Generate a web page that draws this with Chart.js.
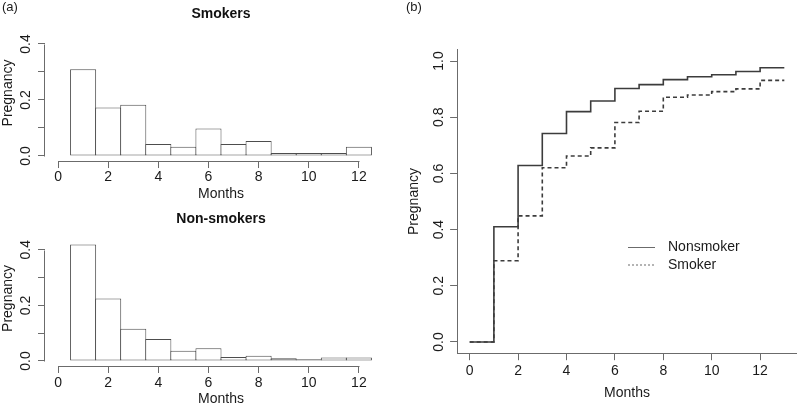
<!DOCTYPE html>
<html>
<head>
<meta charset="utf-8">
<title>Time to pregnancy: smokers vs non-smokers</title>
<script src="https://cdn.jsdelivr.net/npm/chart.js"></script>
<style>
  body { margin: 0; background: #fff; width: 800px; height: 408px; position: relative; overflow: hidden; font-family: "Liberation Sans", Arial, sans-serif; }
  canvas { position: absolute; }
  .tag { position: absolute; font-size: 13px; line-height: 13px; color: #1a1a1a; }
</style>
</head>
<body>
<canvas id="smokers" style="left:0;top:0" width="400" height="205"></canvas>
<canvas id="nonsmokers" style="left:0;top:200px" width="400" height="208"></canvas>
<canvas id="cumulative" style="left:400px;top:0" width="400" height="408"></canvas>
<div class="tag" style="left:2px;top:0px">(a)</div>
<div class="tag" style="left:406px;top:0px">(b)</div>

<script>
  // histogram data (a)
  const histMonths = [1, 2, 3, 4, 5, 6, 7, 8, 9, 10, 11, 12];
  const smokersHist = [0.310, 0.173, 0.183, 0.043, 0.033, 0.098, 0.043, 0.054, 0.011, 0.011, 0.011, 0.033];
  const nonSmokersHist = [0.419, 0.225, 0.116, 0.079, 0.037, 0.046, 0.014, 0.019, 0.010, 0.006, 0.013, 0.013];
  const histYTicks = [0, 0.1, 0.2, 0.3, 0.4];
  const histYLabels = ['0.0', '', '0.2', '', '0.4'];
  const monthTicks = [0, 2, 4, 6, 8, 10, 12];

  // cumulative curves (b)
  const curveMonths = [0, 1, 2, 3, 4, 5, 6, 7, 8, 9, 10, 11, 12, 13];
  const nonsmokerCum = [0, 0.410, 0.628, 0.742, 0.820, 0.858, 0.902, 0.916, 0.934, 0.944, 0.951, 0.963, 0.976, 0.976];
  const smokerCum = [0, 0.289, 0.449, 0.620, 0.662, 0.691, 0.781, 0.821, 0.871, 0.879, 0.891, 0.901, 0.931, 0.931];
  const curveYTicks = [0, 0.2, 0.4, 0.6, 0.8, 1.0];

  Chart.defaults.font.family = '"Liberation Sans", Arial, sans-serif';
  Chart.defaults.font.size = 14;
  Chart.defaults.color = '#1a1a1a';
  const axisGray = '#6b6b6b';

  // R draws the axis line only from the first to the last tick
  const rAxisLines = {
    id: 'rAxisLines',
    afterDraw(chart) {
      const { ctx, chartArea, scales: { x, y } } = chart;
      const ax = Math.round(chartArea.left) - 0.5;
      const ay = Math.round(chartArea.bottom) + 0.5;
      ctx.save();
      ctx.strokeStyle = axisGray;
      ctx.lineWidth = 1;
      ctx.beginPath();
      ctx.moveTo(ax, Math.round(y.getPixelForValue(histYTicks[0])) + 0.5);
      ctx.lineTo(ax, Math.round(y.getPixelForValue(histYTicks[histYTicks.length - 1])) + 0.5);
      ctx.moveTo(Math.round(x.getPixelForValue(monthTicks[0])) + 0.5, ay);
      ctx.lineTo(Math.round(x.getPixelForValue(monthTicks[monthTicks.length - 1])) + 0.5, ay);
      ctx.stroke();
      ctx.restore();
    }
  };

  function histogram(id, title, values, lay) {
    return new Chart(document.getElementById(id), {
      type: 'bar',
      data: {
        datasets: [{
          data: histMonths.map((m, i) => ({ x: m, y: values[i] })),
          backgroundColor: '#ffffff',
          borderColor: '#4d4d4d',
          borderWidth: 1,
          borderSkipped: false,
          barPercentage: 1.04,
          categoryPercentage: 1
        }]
      },
      options: {
        responsive: false,
        animation: false,
        events: [],
        layout: { padding: { top: 0, right: 3, bottom: 0, left: 0 } },
        plugins: {
          legend: { display: false },
          tooltip: { enabled: false },
          title: {
            display: true, text: title, fullSize: false, color: '#111',
            font: { size: 14, weight: 'bold' },
            padding: { top: lay.titleTop, bottom: lay.titleBottom }
          }
        },
        scales: {
          x: {
            type: 'linear', min: -0.52, max: 13.52, offset: false,
            afterBuildTicks: s => { s.ticks = monthTicks.map(v => ({ value: v })); },
            afterFit: s => { s.height = lay.xHeight; },
            border: { display: false },
            grid: { offset: false, drawOnChartArea: false, tickLength: 7, tickColor: axisGray },
            ticks: { padding: lay.xPad, maxRotation: 0, autoSkip: false },
            title: { display: true, text: 'Months', padding: { top: 0, bottom: lay.xTitlePad } }
          },
          y: {
            min: -0.018, max: 0.468,
            afterBuildTicks: s => { s.ticks = histYTicks.map(v => ({ value: v })); },
            afterFit: s => { s.width = 45; },
            border: { display: false },
            grid: { drawOnChartArea: false, tickLength: 7, tickColor: axisGray },
            ticks: {
              minRotation: 90, maxRotation: 90, crossAlign: 'center', padding: 2.4, autoSkip: false,
              callback: (v, i) => histYLabels[i]
            },
            title: { display: true, text: 'Pregnancy', padding: { top: 0, bottom: 0 } }
          }
        }
      },
      plugins: [rAxisLines]
    });
  }

  histogram('smokers', 'Smokers', smokersHist,
    { titleTop: 5.75, titleBottom: 2.4, xHeight: 205 - 161.04, xPad: 0.5, xTitlePad: 2.45 });
  histogram('nonsmokers', 'Non-smokers', nonSmokersHist,
    { titleTop: 11.05, titleBottom: 3.05, xHeight: 208 - 166.0, xPad: 1.4, xTitlePad: 0.15 });

  // legend placed inside the plot, like R's legend()
  const curveLegend = {
    id: 'curveLegend',
    afterDraw(chart) {
      const ctx = chart.ctx;
      ctx.save();
      chart.data.datasets.forEach((ds, i) => {
        const y = 247.5 + i * 17.5;
        ctx.strokeStyle = '#6b6b6b';
        ctx.lineWidth = 1;
        ctx.setLineDash(ds.borderDash ? [2, 2] : []);
        ctx.beginPath();
        ctx.moveTo(228, y);
        ctx.lineTo(255, y);
        ctx.stroke();
        ctx.setLineDash([]);
        ctx.fillStyle = '#1a1a1a';
        ctx.font = '14px "Liberation Sans", Arial, sans-serif';
        ctx.textBaseline = 'middle';
        ctx.fillText(ds.label, 268, y - 0.3);
      });
      ctx.restore();
    }
  };

  new Chart(document.getElementById('cumulative'), {
    type: 'line',
    data: {
      datasets: [
        {
          label: 'Nonsmoker',
          data: curveMonths.map((m, i) => ({ x: m, y: nonsmokerCum[i] })),
          borderColor: '#3c3c3c', borderWidth: 1.6, stepped: true, pointRadius: 0, fill: false
        },
        {
          label: 'Smoker',
          data: curveMonths.map((m, i) => ({ x: m, y: smokerCum[i] })),
          borderColor: '#3c3c3c', borderWidth: 1.6, borderDash: [4, 3], stepped: true, pointRadius: 0, fill: false
        }
      ]
    },
    options: {
      responsive: false,
      animation: false,
      events: [],
      layout: { padding: { top: 49.8, right: 3.1, bottom: 0, left: 0 } },
      plugins: { legend: { display: false }, tooltip: { enabled: false } },
      scales: {
        x: {
          type: 'linear', min: -0.52, max: 13.52,
          afterBuildTicks: s => { s.ticks = monthTicks.map(v => ({ value: v })); },
          afterFit: s => { s.height = 408 - 353.2; },
          border: { display: true, color: axisGray, width: 1 },
          grid: { drawOnChartArea: false, tickLength: 7, tickColor: axisGray },
          ticks: { padding: 2.2, maxRotation: 0, autoSkip: false },
          title: { display: true, text: 'Months', padding: { top: 0, bottom: 6.15 } }
        },
        y: {
          min: -0.04, max: 1.04,
          afterBuildTicks: s => { s.ticks = curveYTicks.map(v => ({ value: v })); },
          afterFit: s => { s.width = 57.1; },
          border: { display: true, color: axisGray, width: 1 },
          grid: { drawOnChartArea: false, tickLength: 7, tickColor: axisGray },
          ticks: {
            minRotation: 90, maxRotation: 90, crossAlign: 'center', padding: 0.9, autoSkip: false,
            callback: v => v.toFixed(1)
          },
          title: { display: true, text: 'Pregnancy', padding: { top: 5.8, bottom: 0 } }
        }
      }
    },
    plugins: [curveLegend]
  });
</script>
</body>
</html>
